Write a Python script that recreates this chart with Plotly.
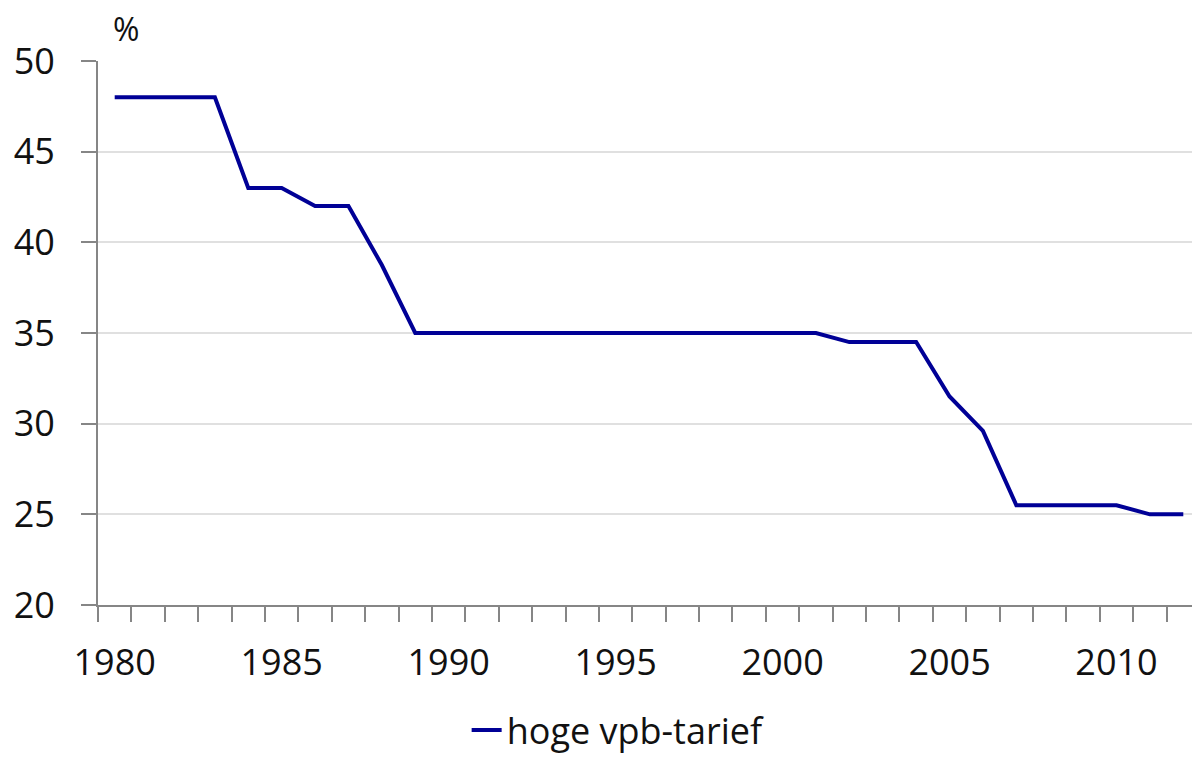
import plotly.graph_objects as go

years = list(range(1980, 2013))
rate = [48, 48, 48, 48, 43, 43, 42, 42, 38.75, 35,
        35, 35, 35, 35, 35, 35, 35, 35, 35, 35,
        35, 35, 34.5, 34.5, 34.5, 31.5, 29.6, 25.5, 25.5, 25.5,
        25.5, 25, 25]
series_name = "hoge vpb-tarief"
label_years = [1980, 1985, 1990, 1995, 2000, 2005, 2010]
y_ticks = [20, 25, 30, 35, 40, 45, 50]

FONT = "Open Sans"
AXIS = "#868686"

fig = go.Figure()
fig.add_trace(go.Scatter(
    x=years, y=rate, mode="lines", name=series_name,
    line=dict(color="#000096", width=4),
))

fig.update_layout(
    width=1192, height=750,
    margin=dict(l=90, r=0, t=53, b=153, autoexpand=False),
    paper_bgcolor="white", plot_bgcolor="white",
    font=dict(family=FONT, size=36, color="#111111"),
    showlegend=True,
    legend=dict(orientation="h", x=0.472, xanchor="center", y=-0.285, yanchor="bottom",
                font=dict(size=36), itemwidth=30, bgcolor="rgba(0,0,0,0)"),
    xaxis=dict(
        range=[1979.5, 2012.5], tickvals=label_years, ticktext=[str(v) for v in label_years],
        ticks="", showgrid=False, showline=True, linecolor=AXIS, linewidth=2,
        zeroline=False, ticklabelstandoff=25, automargin=False,
        minor=dict(tickvals=[y - 0.5 for y in years] + [2012.5], ticks="outside",
                   ticklen=15, tickwidth=2, tickcolor=AXIS, showgrid=False),
    ),
    yaxis=dict(
        range=[20, 50], tickvals=y_ticks, ticks="outside", ticklen=15, tickwidth=2,
        tickcolor=AXIS, showline=True, linecolor=AXIS, linewidth=2,
        showgrid=True, gridcolor="#e0e0e0", gridwidth=2, zeroline=False,
        ticklabelstandoff=19, automargin=False,
    ),
    annotations=[dict(text="%", xref="paper", yref="paper", x=0.012, y=1.0,
                      xanchor="left", yanchor="bottom", yshift=9, showarrow=False,
                      font=dict(size=32, family=FONT, color="#111111"))],
)

fig.write_html("out.html")
